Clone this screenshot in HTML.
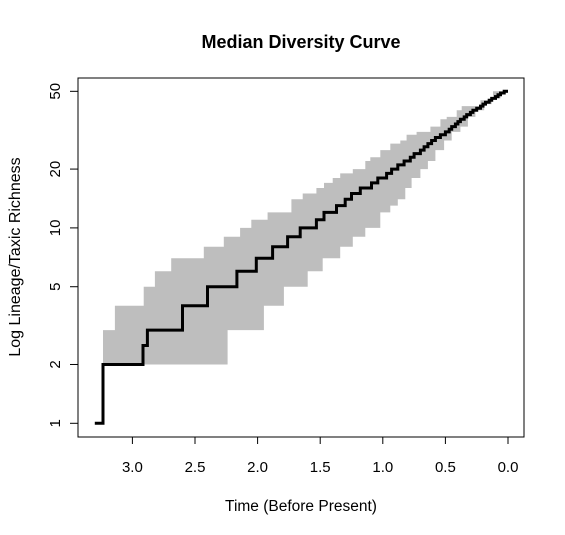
<!DOCTYPE html>
<html><head><meta charset="utf-8"><style>
html,body{margin:0;padding:0;background:#fff;}
svg{display:block;font-family:"Liberation Sans",Arial,sans-serif;}
</style></head><body>
<svg id="chart" width="565" height="535" viewBox="0 0 565 535">
<rect x="0" y="0" width="565" height="535" fill="#fff"/>
<text x="301" y="48" text-anchor="middle" font-size="18" font-weight="bold">Median Diversity Curve</text>
<g id="band"></g>
<g id="line"></g>
<rect x="78" y="78" width="446" height="359" fill="none" stroke="#000" stroke-width="1"/>
<g id="xaxis"></g>
<g id="yaxis"></g>
<text x="301" y="511" text-anchor="middle" font-size="15.5">Time (Before Present)</text>
<text transform="translate(20,257) rotate(-90)" text-anchor="middle" font-size="16">Log Lineage/Taxic Richness</text>
</svg>
<script>
// Median step function: value holds from time[i] to time[i+1]
const medianTimes = [3.30,3.235,2.915,2.88,2.60,2.40,2.165,2.01,1.88,1.76,1.66,1.53,1.47,1.37,1.30,1.25,1.18,1.09,1.04,0.97,0.93,0.88,0.83,0.78,0.75,0.70,0.67,0.64,0.61,0.58,0.54,0.50,0.47,0.45,0.42,0.40,0.38,0.35,0.33,0.30,0.28,0.25,0.22,0.20,0.18,0.15,0.13,0.10,0.08,0.06,0.03,0.0];
const medianValues = [1,2,2.5,3,4,5,6,7,8,9,10,11,12,13,14,15,16,17,18,19,20,21,22,23,24,25,26,27,28,29,30,31,32,33,34,35,36,37,38,39,40,41,42,43,44,45,46,47,48,49,50,50];
// Upper band
const upperTimes = [3.235,3.14,2.91,2.82,2.69,2.43,2.27,2.14,2.05,1.92,1.73,1.64,1.53,1.47,1.40,1.34,1.24,1.14,1.10,1.02,0.94,0.86,0.81,0.73,0.62,0.54,0.49,0.41,0.37,0.22,0.12];
const upperValues = [3,4,5,6,7,8,9,10,11,12,14,15,16,17,18,19,20,22,23,25,27,28,30,31,33,36,37,40,42,45,50];
// Lower band
const lowerTimes = [3.235,2.24,1.95,1.79,1.60,1.48,1.34,1.24,1.14,1.02,0.94,0.88,0.82,0.77,0.70,0.64,0.58,0.51,0.45,0.38,0.32,0.26,0.19,0.13,0.06];
const lowerValues = [2,3,4,5,6,7,8,9,10,12,13,14,16,18,20,22,25,28,31,33,37,40,43,46,49];
const xTicks = [3.0,2.5,2.0,1.5,1.0,0.5,0.0];
const xTickLabels = ["3.0","2.5","2.0","1.5","1.0","0.5","0.0"];
const yTicks = [1,2,5,10,20,50];
const yTickLabels = ["1","2","5","10","20","50"];

const NS="http://www.w3.org/2000/svg";
function xs(t){return 508 - 125.2*t;}
function ys(v){return 423.3 - 195.4*Math.log10(v);}
function mk(tag,attrs,parent){const e=document.createElementNS(NS,tag);for(const k in attrs)e.setAttribute(k,attrs[k]);parent.appendChild(e);return e;}

function stepPts(times,vals,endT){
  const pts=[];
  for(let i=0;i<times.length;i++){
    const t0=times[i], t1=(i+1<times.length)?times[i+1]:endT;
    pts.push([xs(t0),ys(vals[i])]);pts.push([xs(t1),ys(vals[i])]);
  }
  return pts;
}
const up=stepPts(upperTimes,upperValues,0);
const lo=stepPts(lowerTimes,lowerValues,0);
const poly=up.concat(lo.reverse()).map(p=>p[0].toFixed(1)+","+p[1].toFixed(1)).join(" ");
const band=mk("polygon",{points:poly,fill:"#BEBEBE",stroke:"none"},document.getElementById("band"));



const mp=stepPts(medianTimes.slice(0,-1),medianValues.slice(0,-1),0);
const line=mk("polyline",{points:mp.map(p=>p[0].toFixed(1)+","+p[1].toFixed(1)).join(" "),fill:"none",stroke:"#000","stroke-width":3,"stroke-linejoin":"miter"},document.getElementById("line"));



const xg=document.getElementById("xaxis");
mk("line",{x1:xs(xTicks[0]),x2:xs(xTicks[xTicks.length-1]),y1:437,y2:437,stroke:"#000"},xg);
xTicks.forEach((t,i)=>{
  const tk=mk("line",{x1:xs(t),x2:xs(t),y1:437,y2:444,stroke:"#000"},xg);
  
  
  const lb=mk("text",{x:xs(t),y:472,"text-anchor":"middle","font-size":15},xg);
  lb.textContent=xTickLabels[i];
  
  
});
const yg=document.getElementById("yaxis");
mk("line",{x1:78,x2:78,y1:ys(1),y2:ys(50),stroke:"#000"},yg);
yTicks.forEach((v,i)=>{
  const tk=mk("line",{x1:70,x2:78,y1:ys(v),y2:ys(v),stroke:"#000"},yg);
  
  
  const lb=mk("text",{transform:"translate(60,"+ys(v).toFixed(1)+") rotate(-90)","text-anchor":"middle","font-size":15},yg);
  lb.textContent=yTickLabels[i];
  
  
});
</script>
</body></html>
